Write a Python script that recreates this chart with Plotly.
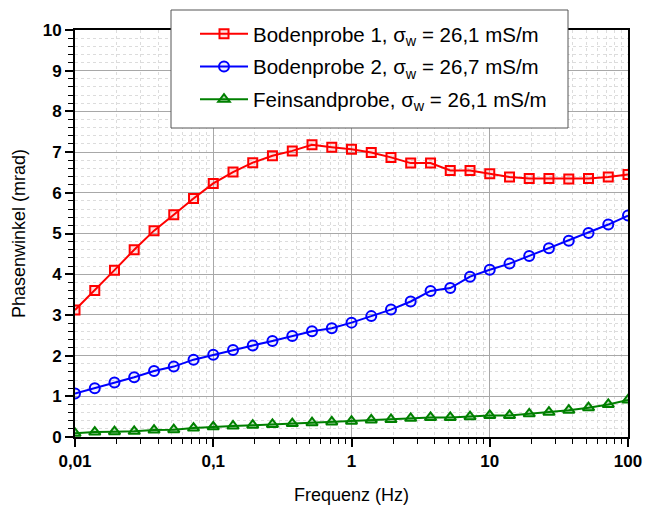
import plotly.graph_objects as go

freq = [0.01, 0.0139, 0.0193, 0.0268, 0.0373, 0.0518, 0.0720,
        0.1, 0.139, 0.193, 0.268, 0.373, 0.518, 0.720,
        1.0, 1.39, 1.93, 2.68, 3.73, 5.18, 7.20,
        10.0, 13.9, 19.3, 26.8, 37.3, 51.8, 72.0, 100.0]

boden1 = [3.12, 3.60, 4.10, 4.60, 5.07, 5.46, 5.86,
          6.23, 6.51, 6.74, 6.91, 7.03, 7.18, 7.12,
          7.07, 6.99, 6.87, 6.73, 6.73, 6.55, 6.55,
          6.47, 6.39, 6.35, 6.35, 6.34, 6.35, 6.39, 6.45]

boden2 = [1.07, 1.20, 1.34, 1.47, 1.62, 1.73, 1.90,
          2.02, 2.14, 2.25, 2.36, 2.48, 2.60, 2.67,
          2.81, 2.97, 3.13, 3.33, 3.59, 3.66, 3.94,
          4.11, 4.26, 4.45, 4.64, 4.82, 5.01, 5.22, 5.44]

feinsand = [0.09, 0.12, 0.13, 0.14, 0.17, 0.18, 0.22,
            0.25, 0.27, 0.29, 0.31, 0.33, 0.35, 0.37,
            0.39, 0.42, 0.43, 0.46, 0.48, 0.48, 0.50,
            0.53, 0.53, 0.57, 0.61, 0.66, 0.72, 0.80, 0.91]

names = ["Bodenprobe 1, σ<sub>w</sub> = 26,1 mS/m",
         "Bodenprobe 2, σ<sub>w</sub> = 26,7 mS/m",
         "Feinsandprobe, σ<sub>w</sub> = 26,1 mS/m"]

x_tickvals = [0.01, 0.1, 1, 10, 100]
x_ticktext = ["0,01", "0,1", "1", "10", "100"]
y_tickvals = list(range(0, 11))

series = [
    (boden1, names[0], "#ff0000", "rgba(255,0,0,0.12)", "square", 9),
    (boden2, names[1], "#0000ff", "rgba(0,0,255,0.06)", "circle", 10),
    (feinsand, names[2], "#008000", "rgba(0,128,0,0.25)", "triangle-up", 10),
]

fig = go.Figure()
for i, (ys, nm, col, fill, sym, sz) in enumerate(series):
    fig.add_trace(go.Scatter(
        x=freq, y=ys, name=nm, mode="lines+markers",
        legendgroup="g%d" % i,
        line=dict(color=col, width=2),
        marker=dict(symbol=sym, size=sz, color=fill,
                    line=dict(color=col, width=2)),
    ))

font_family = "Liberation Sans, Arial, sans-serif"

# plot area: x 75..628, y 30..437 (px)
L, R, T, B = 75, 17, 30, 68
pw, ph = 645 - L - R, 505 - T - B

def px_x(px):
    return (px - L) / pw

def px_y(py):
    return (505 - B - py) / ph

fig.add_shape(type="rect", xref="paper", yref="paper",
              x0=px_x(171), x1=px_x(568), y0=px_y(128), y1=px_y(10),
              line=dict(color="#555555", width=1), fillcolor="white",
              layer="above")

fig.update_layout(
    width=645, height=505,
    margin=dict(l=L, r=R, t=T, b=B),
    paper_bgcolor="white", plot_bgcolor="white",
    font=dict(family=font_family, color="black"),
    legend=dict(
        x=px_x(195), y=px_y(14), xanchor="left", yanchor="top",
        bgcolor="rgba(0,0,0,0)", borderwidth=0,
        font=dict(size=20.5, family=font_family),
        tracegroupgap=3, itemwidth=48,
    ),
    showlegend=True,
)

fig.update_xaxes(
    type="log", range=[-2, 2], automargin=False,
    tickvals=x_tickvals, ticktext=x_ticktext,
    tickfont=dict(size=17, family="Liberation Sans, Arial", weight="bold"),
    ticks="outside", ticklen=8, tickwidth=1.5, tickcolor="black",
    showline=True, linecolor="black", linewidth=2, mirror=True,
    showgrid=True, gridcolor="#a8a8a8", gridwidth=1,
    minor=dict(ticks="outside", ticklen=5, tickcolor="black", tickwidth=1,
               showgrid=True, gridcolor="#dcdcdc", griddash="3px,3px",
               dtick="D1"),
    title=dict(text="Frequenz (Hz)", font=dict(size=18), standoff=22),
    zeroline=False,
)

fig.update_yaxes(
    range=[0, 10], automargin=False,
    tickvals=y_tickvals,
    tickfont=dict(size=17, family="Liberation Sans, Arial", weight="bold"),
    ticks="outside", ticklen=8, tickwidth=1.5, tickcolor="black",
    showline=True, linecolor="black", linewidth=2, mirror=True,
    showgrid=True, gridcolor="#a8a8a8", gridwidth=1,
    minor=dict(ticks="outside", ticklen=5, tickcolor="black", tickwidth=1,
               showgrid=True, gridcolor="#dcdcdc", griddash="3px,3px",
               dtick=0.2),
    title=dict(text="Phasenwinkel (mrad)", font=dict(size=18), standoff=12),
    zeroline=False,
)

fig.write_html("out.html")
